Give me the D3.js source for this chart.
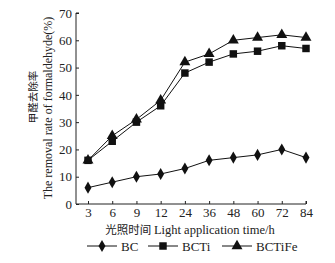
<!DOCTYPE html>
<html>
<head>
<meta charset="utf-8">
<script src="https://cdn.jsdelivr.net/npm/d3@7"></script>
<style>
  body { margin: 0; background: #fff; }
  svg text { font-family: "Liberation Serif", "DejaVu Serif", serif; fill: #222; }
  .cjk { font-family: "Noto Sans CJK SC", sans-serif; }
</style>
</head>
<body>
<div id="chart"></div>
<script>
const hours = ["3", "6", "9", "12", "24", "36", "48", "60", "72", "84"];
const bc = [6, 8, 10, 11, 13, 16, 17, 18, 20, 17];
const bcti = [16, 23, 30, 36, 48, 52, 55, 56, 58, 57];
const bctife = [16, 25, 31, 38, 52, 55, 60, 61, 62, 61];
const yTicks = [0, 10, 20, 30, 40, 50, 60, 70];

const width = 335, height = 263;
const svg = d3.select("#chart").append("svg")
  .attr("width", width)
  .attr("height", height);

const x = d3.scalePoint().domain(hours).range([88, 306]);
const y = d3.scaleLinear().domain([0, 70]).range([204, 13]);

// y軸
const yAxis = svg.append("g")
  .attr("transform", "translate(76,0)")
  .call(d3.axisRight(y).tickValues(yTicks).tickSize(3));
yAxis.select("path.domain").attr("d", `M3,${y(70)}H0V${y(0)}`);
yAxis.selectAll("text").attr("x", -4).attr("text-anchor", "end")
  .style("font-size", "13px");

// x軸
const xAxis = svg.append("g")
  .attr("transform", `translate(0,${y(0)})`)
  .call(d3.axisTop(x).tickSize(3));
xAxis.select("path.domain").attr("d", `M76,0H306V-3`);
xAxis.selectAll("text").attr("y", 13).attr("dy", "0")
  .style("font-size", "13px");

svg.selectAll(".tick line, path.domain").attr("stroke", "#222");

// axis titles
const xTitle = svg.append("text")
  .attr("x", 190).attr("y", 234)
  .attr("text-anchor", "middle")
  .style("font-size", "12.5px");
xTitle.append("tspan").attr("class", "cjk").style("font-size", "11.5px").text("光照时间 ");
xTitle.append("tspan").text("Light application time/h");

svg.append("text")
  .attr("class", "cjk")
  .attr("transform", "translate(37,97) rotate(-90)")
  .attr("text-anchor", "middle")
  .style("font-size", "10.5px")
  .text("甲醛去除率");
svg.append("text")
  .attr("transform", "translate(52,108) rotate(-90)")
  .attr("text-anchor", "middle")
  .style("font-size", "12px")
  .text("The removal rate of formaldehyde(%)");

const series = [
  { name: "BC", values: bc, symbol: d3.symbolDiamond, size: 42 },
  { name: "BCTi", values: bcti, symbol: d3.symbolSquare, size: 56 },
  { name: "BCTiFe", values: bctife, symbol: d3.symbolTriangle, size: 52 }
];

const line = d3.line()
  .x((d, i) => x(hours[i]))
  .y(d => y(d));

series.forEach(s => {
  svg.append("path")
    .attr("d", line(s.values))
    .attr("fill", "none")
    .attr("stroke", "#111")
    .attr("stroke-width", 1);
  svg.selectAll(null)
    .data(s.values)
    .join("path")
    .attr("transform", (d, i) => `translate(${x(hours[i])},${y(d)})`)
    .attr("d", d3.symbol().type(s.symbol).size(s.size))
    .attr("fill", "#111");
});

// legend
const legendX = [87, 148, 222];
series.forEach((s, i) => {
  const g = svg.append("g").attr("transform", `translate(${legendX[i]},246)`);
  g.append("line").attr("x1", 0).attr("x2", 30).attr("stroke", "#111");
  g.append("path").attr("transform", "translate(15,0)")
    .attr("d", d3.symbol().type(s.symbol).size(s.size)).attr("fill", "#111");
  g.append("text").attr("x", 34).attr("y", 0).attr("dy", "0.35em")
    .style("font-size", "13px").text(s.name);
});
</script>
</body>
</html>
